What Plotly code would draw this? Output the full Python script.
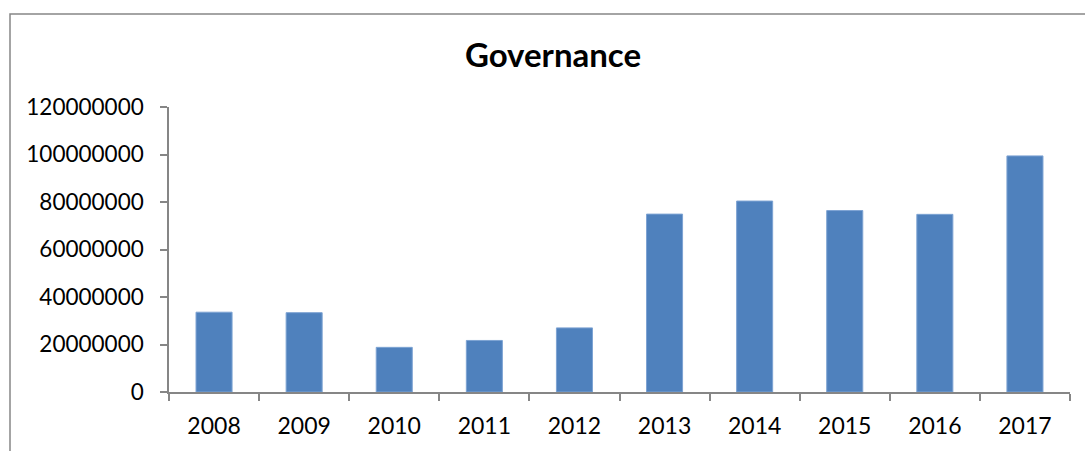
import plotly.graph_objects as go

years = ["2008", "2009", "2010", "2011", "2012", "2013", "2014", "2015", "2016", "2017"]
governance = [33600000, 33400000, 18800000, 21700000, 27000000,
              74900000, 80400000, 76400000, 74800000, 99400000]
y_ticks = [0, 20000000, 40000000, 60000000, 80000000, 100000000, 120000000]

W, H = 1085, 451
L, R, T, B = 169, 15, 107, 56
axis_grey = "#868686"
font_family = "Lato, Carlito, 'Open Sans', sans-serif"

fig = go.Figure(
    go.Bar(
        x=years,
        y=governance,
        marker=dict(color="#4F81BD", line=dict(color="#7DA3D3", width=1)),
    )
)

# frame around the chart area (left and top edges visible)
pw, ph = W - L - R, H - T - B
def px_x(p):
    return (p - L) / pw
def px_y(p):
    return (H - B - p) / ph

fig.add_shape(
    type="rect", xref="paper", yref="paper",
    x0=px_x(10), x1=px_x(1095), y0=px_y(460), y1=px_y(13),
    line=dict(color=axis_grey, width=1.5), fillcolor="rgba(0,0,0,0)",
    layer="below",
)

fig.update_layout(
    width=W, height=H,
    margin=dict(l=L, r=R, t=T, b=B),
    paper_bgcolor="white", plot_bgcolor="white",
    bargap=0.6,
    showlegend=False,
    font=dict(family=font_family, size=23, color="black"),
    title=dict(
        text="<b>Governance</b>",
        x=553 / W, xanchor="center",
        y=1 - 55 / H, yanchor="middle",
        yref="container", xref="container",
        font=dict(family=font_family, size=33, color="black"),
    ),
    xaxis=dict(
        type="category",
        showline=True, linecolor=axis_grey, linewidth=1.5,
        ticks="outside", tickson="boundaries", ticklen=7,
        tickcolor=axis_grey, tickwidth=1.5,
        ticklabelstandoff=13,
        showgrid=False, zeroline=False,
    ),
    yaxis=dict(
        range=[0, 120000000],
        tickmode="array", tickvals=y_ticks,
        tickformat="d",
        tickfont=dict(size=22.5),
        showline=True, linecolor=axis_grey, linewidth=1.5,
        ticks="outside", ticklen=7,
        tickcolor=axis_grey, tickwidth=1.5,
        ticklabelstandoff=12,
        showgrid=False, zeroline=False,
    ),
)

fig.write_html("out.html")
